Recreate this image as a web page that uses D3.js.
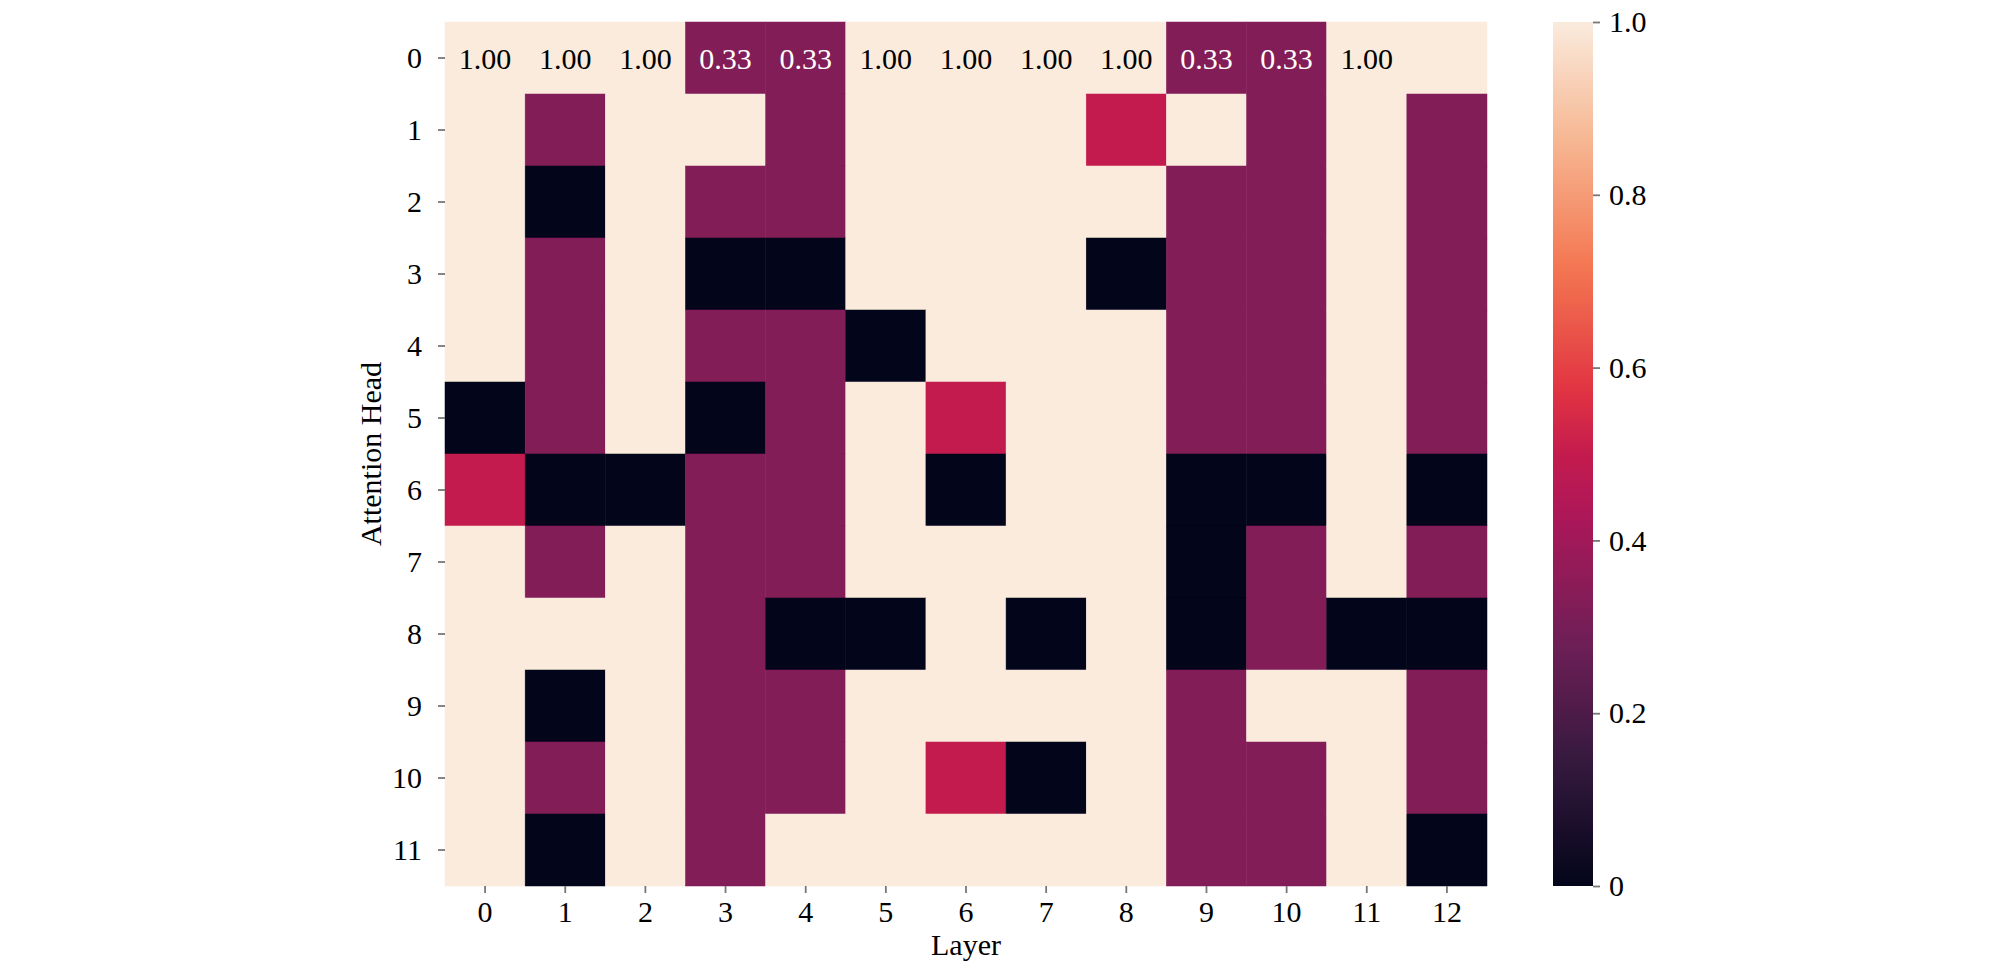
<!DOCTYPE html>
<html>
<head>
<meta charset="utf-8">
<script src="https://cdn.jsdelivr.net/npm/d3@7"></script>
<style>
  html, body { margin: 0; padding: 0; background: #fff; }
  svg text { font-family: "Liberation Serif", "DejaVu Serif", serif; fill: #000; }
</style>
</head>
<body>
<svg id="chart" width="2009" height="970"></svg>
<script>
// ---- data ----
const layers = [0,1,2,3,4,5,6,7,8,9,10,11,12];
const heads = [0,1,2,3,4,5,6,7,8,9,10,11];
// values[head][layer]
const values = [
  [1,1,1,0.33,0.33,1,1,1,1,0.33,0.33,1,1],
  [1,0.33,1,1,0.33,1,1,1,0.5,1,0.33,1,0.33],
  [1,0,1,0.33,0.33,1,1,1,1,0.33,0.33,1,0.33],
  [1,0.33,1,0,0,1,1,1,0,0.33,0.33,1,0.33],
  [1,0.33,1,0.33,0.33,0,1,1,1,0.33,0.33,1,0.33],
  [0,0.33,1,0,0.33,1,0.5,1,1,0.33,0.33,1,0.33],
  [0.5,0,0,0.33,0.33,1,0,1,1,0,0,1,0],
  [1,0.33,1,0.33,0.33,1,1,1,1,0,0.33,1,0.33],
  [1,1,1,0.33,0,0,1,0,1,0,0.33,0,0],
  [1,0,1,0.33,0.33,1,1,1,1,0.33,1,1,0.33],
  [1,0.33,1,0.33,0.33,1,0.5,0,1,0.33,0.33,1,0.33],
  [1,0,1,0.33,1,1,1,1,1,0.33,0.33,1,0]
];
// annotations shown on row 0 only
const annotRow = 0;
const annotLabels = ["1.00","1.00","1.00","0.33","0.33","1.00","1.00","1.00","1.00","0.33","0.33","1.00",""];
const cbarTicks = [0, 0.2, 0.4, 0.6, 0.8, 1.0];
const cbarTickLabels = ["0","0.2","0.4","0.6","0.8","1.0"];

// rocket colormap control points
const rocketStops = ["#03051a","#35193e","#701f57","#ad1759","#c41b4e","#e13342","#f37651","#f6b48f","#faebdd"];
const rocketPos = [0, 1/7, 2/7, 3/7, 0.5, 4/7, 5/7, 6/7, 1];
const rocket = d3.scaleLinear().domain(rocketPos).range(rocketStops).interpolate(d3.interpolateRgb).clamp(true);

// ---- layout ----
const svg = d3.select("#chart");
const L = 445, R = 1487, T = 22, B = 886;
const x = d3.scaleBand().domain(layers).range([L, R]).padding(0);
const y = d3.scaleBand().domain(heads).range([T, B]).padding(0);
const fs = 30;

const cells = [];
values.forEach((row, hi) => row.forEach((v, li) => cells.push({h: heads[hi], l: layers[li], v})));

svg.append("g").selectAll("rect").data(cells).join("rect")
  .attr("x", d => x(d.l)).attr("y", d => y(d.h))
  .attr("width", x.bandwidth()).attr("height", y.bandwidth())
  .attr("fill", d => rocket(d.v))
  .attr("stroke", d => rocket(d.v)).attr("stroke-width", 0.5);

// annotations
svg.append("g").selectAll("text").data(annotLabels.map((t, i) => ({t, l: layers[i], v: values[annotRow][i]}))).join("text")
  .attr("x", d => x(d.l) + x.bandwidth() / 2)
  .attr("y", y(heads[annotRow]) + y.bandwidth() / 2)
  .attr("dy", "0.35em")
  .attr("text-anchor", "middle")
  .attr("font-size", fs)
  .style("fill", d => d.v > 0.6 ? "#000" : "#fff")
  .text(d => d.t);

// axes
const xAxis = svg.append("g").attr("transform", `translate(0,${B})`)
  .call(d3.axisBottom(x).tickSize(7).tickPadding(8));
const yAxis = svg.append("g").attr("transform", `translate(${L},0)`)
  .call(d3.axisLeft(y).tickSize(7).tickPadding(16));
[xAxis, yAxis].forEach(g => {
  g.select(".domain").remove();
  g.selectAll(".tick line").attr("stroke", "#777").attr("stroke-width", 1.8);
  g.selectAll(".tick text").attr("font-size", fs).style("font-family", '"Liberation Serif", serif');
});

svg.append("text").attr("x", (L + R) / 2).attr("y", 955)
  .attr("text-anchor", "middle").attr("font-size", fs).text("Layer");
svg.append("text").attr("transform", `translate(381,${(T + B) / 2}) rotate(-90)`)
  .attr("text-anchor", "middle").attr("font-size", fs).text("Attention Head");

// colorbar
const cbL = 1553, cbR = 1593;
const cy = d3.scaleLinear().domain([0, 1]).range([B, T]);
const defs = svg.append("defs");
const grad = defs.append("linearGradient").attr("id", "cbgrad")
  .attr("x1", 0).attr("y1", 1).attr("x2", 0).attr("y2", 0);
d3.range(0, 1.0001, 0.02).forEach(t => grad.append("stop").attr("offset", t).attr("stop-color", rocket(t)));
svg.append("rect").attr("x", cbL).attr("y", T).attr("width", cbR - cbL).attr("height", B - T)
  .attr("fill", "url(#cbgrad)");
const cAxis = svg.append("g").attr("transform", `translate(${cbR},0)`)
  .call(d3.axisRight(cy).tickValues(cbarTicks).tickFormat((d, i) => cbarTickLabels[i]).tickSize(7).tickPadding(9));
cAxis.select(".domain").remove();
cAxis.selectAll(".tick line").attr("stroke", "#777").attr("stroke-width", 1.8);
cAxis.selectAll(".tick text").attr("font-size", fs).style("font-family", '"Liberation Serif", serif');
</script>
</body>
</html>
